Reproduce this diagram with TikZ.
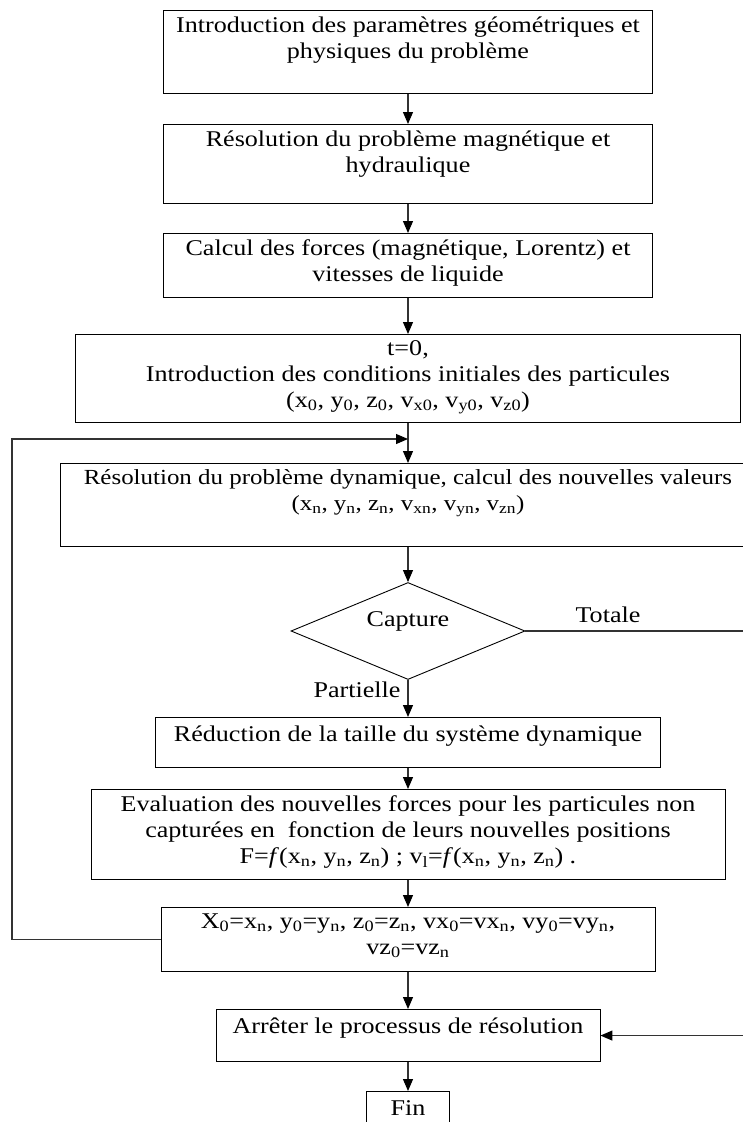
\documentclass[tikz,border=0pt]{standalone}
\usepackage{fontspec}
\setmainfont[FakeStretch=1.16]{Liberation Serif}
\usetikzlibrary{arrows.meta, shapes.geometric}
\tikzset{box/.style = {draw, line width=0.9pt, align=center, inner xsep=3pt, inner ysep=6pt, anchor=north,
    font=\fontsize{22.5}{26}\selectfont, execute at begin node=\strut}}
\tikzset{arr/.style = {line width=1.1pt, draw=black!80, -{Triangle[length=12pt,width=10pt,color=black]}}}
\tikzset{lbl/.style = {inner sep=0pt, font=\fontsize{22.5}{26}\selectfont}}
\newcommand{\pad}[1]{\rule[-#1]{0pt}{#1}}
\newcommand{\ix}[1]{\textsubscript{#1}}

\begin{document}
\begin{tikzpicture}[x=1pt, y=-1pt]
\useasboundingbox (0,0) rectangle (743,1122);
\node[box, minimum width=489pt] (b1) at (408,10) {Introduction des paramètres géométriques et\\ physiques du problème\pad{29pt}};
\node[box, minimum width=489pt] (b2) at (408,124) {Résolution du problème magnétique et\\ hydraulique\pad{25pt}};
\node[box, minimum width=489pt] (b3) at (408,233) {Calcul des forces (magnétique, Lorentz) et\\ vitesses de liquide\pad{10pt}};
\node[box, minimum width=665pt] (b4) at (408,334) {t=0,\\ Introduction des conditions initiales des particules\\
    (x\ix{0}, y\ix{0}, z\ix{0}, v\ix{x0}, v\ix{y0}, v\ix{z0})\pad{9pt}};
\node[box, minimum width=696pt, font=\fontsize{21.5}{26}\selectfont] (b5) at (408,463) {Résolution du problème dynamique, calcul des nouvelles valeurs\\
    (x\ix{n}, y\ix{n}, z\ix{n}, v\ix{xn}, v\ix{yn}, v\ix{zn})\pad{30pt}};
\node[diamond, draw, line width=0.9pt, minimum width=234pt, minimum height=97pt, aspect=2.4, inner sep=0pt,
    text height=15pt, text depth=25pt, font=\fontsize{22.5}{26}\selectfont] (cap) at (408,631) {Capture};
\node[box, minimum width=505pt] (b6) at (408,717) {Réduction de la taille du système dynamique\pad{20pt}};
\node[box, minimum width=634pt] (b7) at (408,789) {Evaluation des nouvelles forces pour les particules non\\
    capturées en\ \ fonction de leurs nouvelles positions\\
    F=\textit{f}(x\ix{n}, y\ix{n}, z\ix{n}) ; v\ix{l}=\textit{f}(x\ix{n}, y\ix{n}, z\ix{n}) .\pad{10pt}};
\node[box, minimum width=494pt] (b8) at (408,907) {X\ix{0}=x\ix{n}, y\ix{0}=y\ix{n}, z\ix{0}=z\ix{n}, vx\ix{0}=vx\ix{n}, vy\ix{0}=vy\ix{n},\\
    vz\ix{0}=vz\ix{n}\pad{11pt}};
\node[box, minimum width=384pt] (b9) at (408,1009) {Arrêter le processus de résolution\pad{22pt}};
\node[box, minimum width=83pt] (fin) at (408,1091) {Fin\pad{19pt}};
\node[lbl] (tot) at (608,615) {Totale};
\node[lbl] (part) at (357,690) {Partielle};

\coordinate (lj) at (408,439);
\coordinate (lp) at (12,439);
\coordinate (rr) at (752,631);

\foreach \a/\b in {b1/b2, b2/b3, b3/b4, b4/b5, b5/cap, cap/b6, b6/b7, b7/b8, b8/b9, b9/fin}
    \draw[arr] (\a.south) -- (\b.north);
\draw[arr] (b8.west) -| (lp) -- (lj);
\draw[arr] (cap.east) -- (rr) |- (b9.east);
\end{tikzpicture}
\end{document}
